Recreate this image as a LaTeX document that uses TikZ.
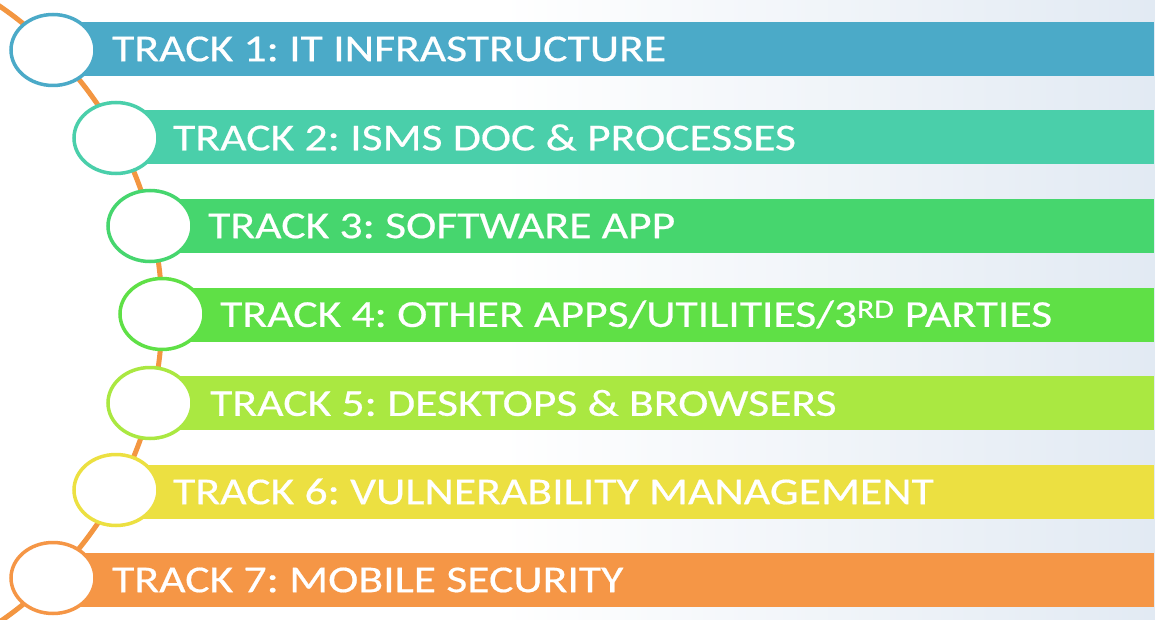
\documentclass[tikz,border=0pt]{standalone}
\usepackage{fontspec}
\setmainfont{Carlito}
\newfontfamily\trackfont[FakeStretch=1.2,FakeBold=0.5]{Carlito}
\usetikzlibrary{shapes.geometric}
\definecolor{c1}{RGB}{75,170,200}
\definecolor{c2}{RGB}{74,207,170}
\definecolor{c3}{RGB}{70,214,110}
\definecolor{c4}{RGB}{95,224,70}
\definecolor{c5}{RGB}{170,232,65}
\definecolor{c6}{RGB}{236,224,65}
\definecolor{c7}{RGB}{245,150,70}
\definecolor{trackline}{RGB}{243,150,65}
\definecolor{bgblue}{RGB}{226,234,243}
\tikzset{
  bar/.style={fill=#1, draw=none},
  ring/.style={ellipse, draw=#1, fill=white, line width=3.5pt, minimum width=84pt, minimum height=71pt, inner sep=0pt},
  label/.style={text=white, font=\trackfont\fontsize{38}{40}\selectfont\frenchspacing, anchor=west, inner sep=0pt}
}
\begin{document}
\begin{tikzpicture}[x=1pt,y=-1pt]
\useasboundingbox (0,0) rectangle (1155,620);
\fill[white] (0,0) rectangle (1155,620);
\shade[left color=white, right color=bgblue] (500,0) rectangle (1155,620);
\begin{scope}
\clip (0,0) rectangle (1155,620);
\draw[trackline, line width=5pt] (-211,314) circle (373pt);
\end{scope}
% bars
\foreach \i/\x/\c in {1/53/c1,2/116/c2,3/150/c3,4/162/c4,5/150/c5,6/116/c6,7/53/c7}{
  \pgfmathsetmacro{\yc}{49+88.5*(\i-1)}
  \fill[bar=\c] (\x,\yc-27) rectangle (1154,\yc+27);
}
\node[ring=c1] (r1) at (53,50) {};
\node[ring=c2] (r2) at (116,138) {};
\node[ring=c3] (r3) at (150,226) {};
\node[ring=c4] (r4) at (162,314) {};
\node[ring=c5] (r5) at (150,403) {};
\node[ring=c6] (r6) at (116,490) {};
\node[ring=c7] (r7) at (53,578) {};
\node[label] (t1) at (112,49) {TRACK 1: IT INFRASTRUCTURE};
\node[label] (t2) at (173,137.5) {TRACK 2: ISMS DOC \& PROCESSES};
\node[label] (t3) at (208,226) {TRACK 3: SOFTWARE APP};
\node[label] (t4) at (220,314.5) {TRACK 4: OTHER APPS/UTILITIES/3\textsuperscript{RD} PARTIES};
\node[label] (t5) at (210,403) {TRACK 5: DESKTOPS \& BROWSERS};
\node[label] (t6) at (173,491.5) {TRACK 6: VULNERABILITY MANAGEMENT};
\node[label] (t7) at (112,580) {TRACK 7: MOBILE SECURITY};
\end{tikzpicture}
\end{document}
